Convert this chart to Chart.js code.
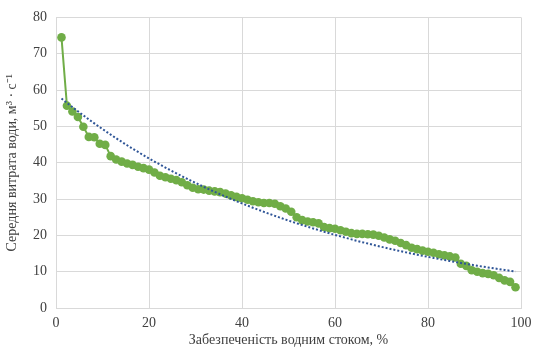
<!DOCTYPE html>
<html>
<head>
<meta charset="utf-8">
<script src="https://cdn.jsdelivr.net/npm/chart.js@4.4.0/dist/chart.umd.min.js"></script>
<style>
  html, body { margin: 0; padding: 0; background: #fff; }
  #wrap { width: 533px; height: 353px; }
</style>
</head>
<body>
<div id="wrap"><canvas id="flowChart"></canvas></div>
<script>
// забезпеченість, % (i / (n + 1) * 100)
const supplyPct = [
    1.18, 2.35, 3.53, 4.71, 5.88, 7.06, 8.24, 9.41, 10.59, 11.76,
    12.94, 14.12, 15.29, 16.47, 17.65, 18.82, 20.00, 21.18, 22.35, 23.53,
    24.71, 25.88, 27.06, 28.24, 29.41, 30.59, 31.76, 32.94, 34.12, 35.29,
    36.47, 37.65, 38.82, 40.00, 41.18, 42.35, 43.53, 44.71, 45.88, 47.06,
    48.24, 49.41, 50.59, 51.76, 52.94, 54.12, 55.29, 56.47, 57.65, 58.82,
    60.00, 61.18, 62.35, 63.53, 64.71, 65.88, 67.06, 68.24, 69.41, 70.59,
    71.76, 72.94, 74.12, 75.29, 76.47, 77.65, 78.82, 80.00, 81.18, 82.35,
    83.53, 84.71, 85.88, 87.06, 88.24, 89.41, 90.59, 91.76, 92.94, 94.12,
    95.29, 96.47, 97.65, 98.82
];
// середня витрата води, м3/с
const meanFlow = [
    74.5, 55.7, 54.1, 52.6, 49.9, 47.1, 47.0, 45.2, 44.9, 41.8,
    40.9, 40.3, 39.8, 39.4, 38.9, 38.5, 38.1, 37.3, 36.4, 36.0,
    35.6, 35.2, 34.6, 33.8, 33.1, 32.7, 32.6, 32.3, 32.1, 31.9,
    31.5, 31.0, 30.6, 30.2, 29.8, 29.4, 29.1, 28.9, 28.9, 28.7,
    28.0, 27.4, 26.5, 25.0, 24.2, 23.8, 23.6, 23.3, 22.3, 22.0,
    21.8, 21.4, 21.0, 20.6, 20.4, 20.4, 20.3, 20.2, 19.9, 19.4,
    18.9, 18.5, 17.9, 17.3, 16.6, 16.2, 15.8, 15.5, 15.2, 14.8,
    14.5, 14.2, 13.9, 12.2, 11.6, 10.4, 10.0, 9.6, 9.4, 9.0,
    8.3, 7.6, 7.2, 5.7
];
const xTicks = [0, 20, 40, 60, 80, 100];
const yTicks = [0, 10, 20, 30, 40, 50, 60, 70, 80];

// експоненційна лінія тренду (як у Excel): ln y = ln a + b x
function expTrend(xs, ys) {
    const n = xs.length;
    let sx = 0, sy = 0, sxx = 0, sxy = 0;
    for (let i = 0; i < n; i++) {
        const ly = Math.log(ys[i]);
        sx += xs[i]; sy += ly; sxx += xs[i] * xs[i]; sxy += xs[i] * ly;
    }
    const b = (n * sxy - sx * sy) / (n * sxx - sx * sx);
    const a = Math.exp((sy - b * sx) / n);
    return xs.map(x => ({ x: x, y: a * Math.exp(b * x) }));
}

const flowPoints = supplyPct.map((x, i) => ({ x: x, y: meanFlow[i] }));
const trendPoints = expTrend(supplyPct, meanFlow);

const serif = "'Liberation Serif', 'Times New Roman', serif";

new Chart(document.getElementById('flowChart'), {
    type: 'scatter',
    data: {
        datasets: [
            {
                label: 'trend',
                data: trendPoints,
                showLine: true,
                borderColor: '#2f5597',
                borderWidth: 2,
                borderDash: [2, 2],
                pointRadius: 0,
                fill: false,
                order: 0
            },
            {
                label: 'flow',
                data: flowPoints,
                showLine: true,
                borderColor: '#70ad47',
                backgroundColor: '#70ad47',
                borderWidth: 2,
                pointRadius: 4.3,
                pointBorderWidth: 0,
                fill: false,
                order: 1
            }
        ]
    },
    options: {
        responsive: true,
        maintainAspectRatio: false,
        animation: false,
        layout: { padding: { left: 4, right: 0, top: 8, bottom: 4 } },
        plugins: { legend: { display: false }, tooltip: { enabled: false } },
        scales: {
            x: {
                type: 'linear', min: 0, max: 100,
                afterBuildTicks: (ax) => { ax.ticks = xTicks.map(v => ({ value: v })); },
                afterFit: (ax) => { ax.height = 41; ax.paddingRight = 12; },
                grid: { color: '#d9d9d9', lineWidth: 1, drawTicks: false },
                border: { display: true, color: '#d9d9d9' },
                ticks: { color: '#404040', font: { family: serif, size: 14 }, padding: 7 },
                title: {
                    display: true, text: 'Забезпеченість водним стоком, %',
                    color: '#404040', font: { family: serif, size: 14 }, padding: { top: 2, bottom: 0 }
                }
            },
            y: {
                type: 'linear', min: 0, max: 80,
                afterBuildTicks: (ax) => { ax.ticks = yTicks.map(v => ({ value: v })); },
                afterFit: (ax) => { ax.width = 52; },
                grid: { color: '#d9d9d9', lineWidth: 1, drawTicks: false },
                border: { display: true, color: '#d9d9d9' },
                ticks: { color: '#404040', font: { family: serif, size: 14 }, padding: 9 },
                title: {
                    display: true, text: 'Середня витрата води, м³ · с⁻¹',
                    color: '#404040', font: { family: serif, size: 14 }, padding: { top: 0, bottom: 4 }
                }
            }
        }
    }
});
</script>
</body>
</html>
